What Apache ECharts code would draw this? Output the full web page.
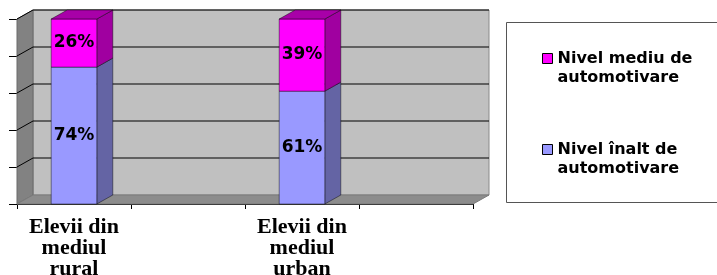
<!DOCTYPE html>
<html lang="ro">
<head>
<meta charset="UTF-8">
<title>Automotivare</title>
<script src="https://cdn.jsdelivr.net/npm/echarts@6/dist/echarts.min.js"></script>
<style>
  html, body { margin: 0; padding: 0; background: #fff; }
  #main { width: 717px; height: 275px; }
</style>
</head>
<body>
<div id="main"></div>
<script>
// data
var categories = ['Elevii din\nmediul\nrural', '', 'Elevii din\nmediul\nurban', ''];
var nivelInalt = [74, null, 61, null];
var nivelMediu = [26, null, 39, null];
var yTicks = [0, 20, 40, 60, 80, 100];

var nameInalt = 'Nivel înalt de\nautomotivare';
var nameMediu = 'Nivel mediu de\nautomotivare';

// depth of the fake 3d box
var DX = 16, DY = -9;

function wallsRender(params, api) {
    var cs = params.coordSys;
    var x0 = cs.x, x1 = cs.x + cs.width, yTop = cs.y, yBot = cs.y + cs.height;
    var kids = [];
    // back wall
    kids.push({ type: 'rect', shape: { x: x0 + DX, y: yTop + DY, width: cs.width, height: cs.height },
        style: { fill: '#c0c0c0', stroke: '#8a8a8a', lineWidth: 1 } });
    // left wall
    kids.push({ type: 'polygon', shape: { points: [[x0, yTop], [x0 + DX, yTop + DY], [x0 + DX, yBot + DY], [x0, yBot]] },
        style: { fill: '#828282', stroke: '#6a6a6a', lineWidth: 1 } });
    // floor
    kids.push({ type: 'polygon', shape: { points: [[x0, yBot], [x1, yBot], [x1 + DX, yBot + DY], [x0 + DX, yBot + DY]] },
        style: { fill: '#8c8c8c', stroke: '#7a7a7a', lineWidth: 1 } });
    // grid lines on back + left wall
    yTicks.forEach(function (v) {
        if (v === 0) return;
        var y = api.coord([0, v])[1];
        kids.push({ type: 'polyline', shape: { points: [[x0, y], [x0 + DX, y + DY], [x1 + DX, y + DY]] },
            style: { stroke: '#000', lineWidth: 1, fill: null } });
    });
    return { type: 'group', children: kids };
}

function boxRender(front, side, top, showTop) {
    return function (params, api) {
        var x = api.value(0), lo = api.value(1), hi = api.value(2);
        var pLo = api.coord([x, lo]);
        var pHi = api.coord([x, hi]);
        var w = api.size([1, 0])[0] * 0.4;
        var l = pLo[0] - w / 2, r = pLo[0] + w / 2;
        var yb = pLo[1], yt = pHi[1];
        var edge = 'rgba(0,0,0,0.55)';
        var kids = [
            { type: 'polygon', shape: { points: [[r, yb], [r + DX, yb + DY], [r + DX, yt + DY], [r, yt]] },
              style: { fill: side, stroke: edge, lineWidth: 0.8 } },
            { type: 'rect', shape: { x: l, y: yt, width: w, height: yb - yt },
              style: { fill: front, stroke: edge, lineWidth: 0.8 } },
            { type: 'text', x: pLo[0], y: (yb + yt) / 2,
              style: { text: (hi - lo) + '%', fill: '#000', align: 'center', verticalAlign: 'middle',
                       font: 'bold 17px "DejaVu Sans"' } }
        ];
        if (showTop) {
            kids.push({ type: 'polygon', shape: { points: [[l, yt], [r, yt], [r + DX, yt + DY], [l + DX, yt + DY]] },
                style: { fill: top, stroke: edge, lineWidth: 0.8 } });
        }
        return { type: 'group', children: kids };
    };
}

var inaltData = [], mediuData = [];
for (var i = 0; i < categories.length; i++) {
    if (nivelInalt[i] == null) continue;
    inaltData.push([i, 0, nivelInalt[i]]);
    mediuData.push([i, nivelInalt[i], nivelInalt[i] + nivelMediu[i]]);
}

var legendText = {
    fontFamily: 'DejaVu Sans', fontWeight: 'bold', fontSize: 16, color: '#000', lineHeight: 19
};
// blank first line so the marker sits next to the first text line
function legendFmt(name) { return ' \n' + name; }

var myChart = echarts.init(document.getElementById('main'));

var option = {
    animation: false,
    graphic: [{
        type: 'rect', left: 506, top: 22, z: -1,
        shape: { width: 230, height: 180 },
        style: { fill: '#fff', stroke: '#555', lineWidth: 1 }
    }],
    legend: [{
        data: [nameMediu], orient: 'vertical', left: 542, top: 30, padding: 0,
        icon: 'rect', itemWidth: 10, itemHeight: 10, itemGap: 0,
        itemStyle: { borderColor: '#000', borderWidth: 1 },
        formatter: legendFmt,
        textStyle: legendText
    }, {
        data: [nameInalt], orient: 'vertical', left: 542, top: 121, padding: 0,
        icon: 'rect', itemWidth: 10, itemHeight: 10, itemGap: 0,
        itemStyle: { borderColor: '#000', borderWidth: 1 },
        formatter: legendFmt,
        textStyle: legendText
    }],
    grid: { left: 17, top: 19, width: 456, height: 185, outerBoundsMode: 'none', containLabel: false },
    xAxis: {
        type: 'category',
        data: categories,
        boundaryGap: true,
        axisLine: { lineStyle: { color: '#000', width: 1 } },
        axisTick: { show: true, length: 5, alignWithLabel: false, lineStyle: { color: '#000' } },
        axisLabel: {
            interval: 0, margin: 13,
            fontFamily: 'Liberation Serif', fontWeight: 'bold', fontSize: 22,
            lineHeight: 21, color: '#000'
        }
    },
    yAxis: {
        type: 'value', min: 0, max: 100, interval: 20,
        axisLine: { show: true, lineStyle: { color: '#000', width: 1 } },
        axisTick: { show: true, length: 8, lineStyle: { color: '#000' } },
        axisLabel: { show: false },
        splitLine: { show: false }
    },
    series: [{
        type: 'custom', name: 'walls', silent: true, z: 1,
        renderItem: wallsRender,
        data: [[0, 0]]
    }, {
        type: 'custom', name: nameInalt, z: 2,
        itemStyle: { color: '#9999ff' },
        encode: { x: 0, y: [1, 2] },
        renderItem: boxRender('#9999ff', '#6464a4', '#7a7ad0', false),
        data: inaltData
    }, {
        type: 'custom', name: nameMediu, z: 3,
        itemStyle: { color: '#ff00ff' },
        encode: { x: 0, y: [1, 2] },
        renderItem: boxRender('#ff00ff', '#a000a0', '#a800a8', true),
        data: mediuData
    }]
};

myChart.setOption(option);
</script>
</body>
</html>
